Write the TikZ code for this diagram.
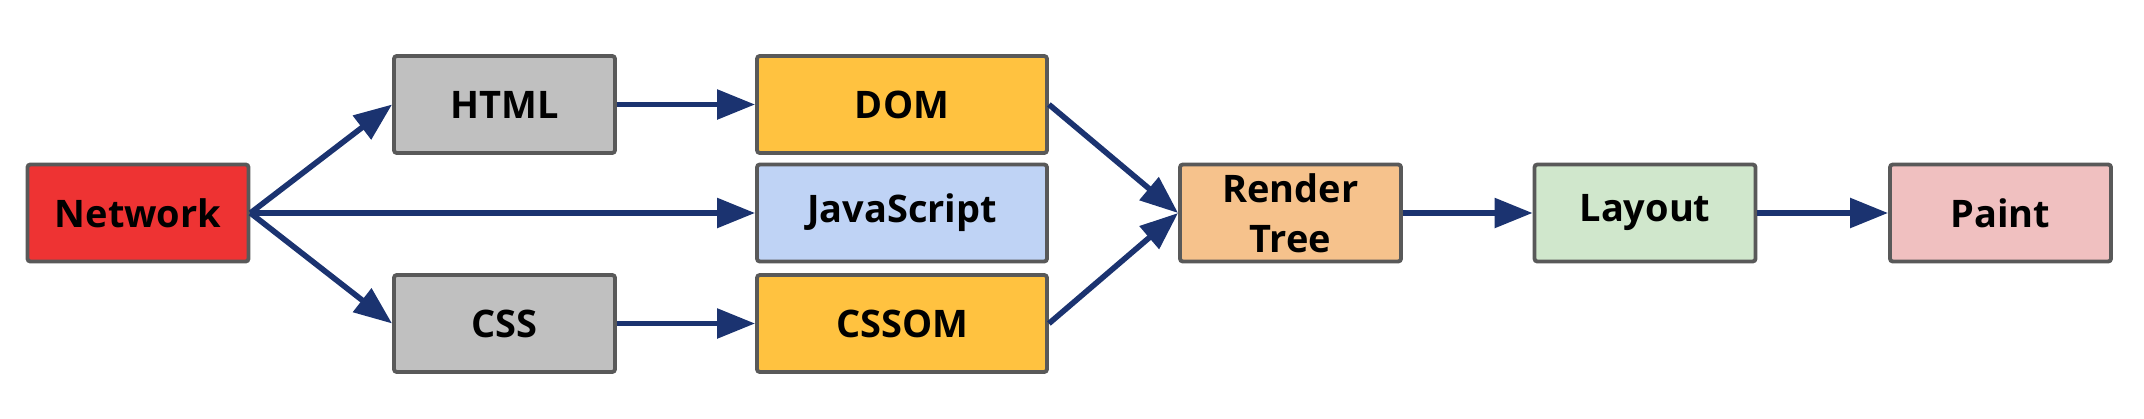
\documentclass[tikz,border=0pt]{standalone}
\usepackage{fontspec}
\setmainfont{Open Sans}
\usepackage{xcolor}
\usepackage{tikz}
\usetikzlibrary{arrows.meta}

\definecolor{netred}{HTML}{EE3333}
\definecolor{srcgray}{HTML}{C0C0C0}
\definecolor{objyellow}{HTML}{FFC240}
\definecolor{jsblue}{HTML}{BFD3F5}
\definecolor{rtorange}{HTML}{F6C28C}
\definecolor{laygreen}{HTML}{D0E7CC}
\definecolor{paintpink}{HTML}{F0C0C0}
\definecolor{edgegray}{HTML}{595959}
\definecolor{flownavy}{HTML}{1B3370}

\begin{document}
\begin{tikzpicture}[
    stage/.style={draw=edgegray, line width=1.1pt, rounded corners=0.8pt, rectangle, minimum width=2.21cm, minimum height=0.97cm, inner sep=0pt, align=center, font=\fontsize{10.8}{14.2}\selectfont\bfseries},
    flow/.style={draw=flownavy, line width=1.6pt, -{Triangle[length=0.38cm,width=0.29cm]}}
]
                \useasboundingbox (0,0) rectangle (21.44,4.18);
                \node[stage, fill=netred] (Network) at (1.38,2.05) {Network};
                \node[stage, fill=srcgray] (HTML) at (5.045,3.135) {HTML};
                \node[stage, fill=srcgray] (CSS) at (5.045,0.945) {CSS};
                \node[stage, fill=objyellow, minimum width=2.9cm] (DOM) at (9.02,3.135) {DOM};
                \node[stage, fill=jsblue, minimum width=2.9cm] (JavaScript) at (9.02,2.05) {JavaScript};
                \node[stage, fill=objyellow, minimum width=2.9cm] (CSSOM) at (9.02,0.945) {CSSOM};
                \node[stage, fill=rtorange] (RenderTree) at (12.905,2.05) {Render\\Tree};
                \node[stage, fill=laygreen] (Layout) at (16.45,2.05) {Layout};
                \node[stage, fill=paintpink] (Paint) at (20.005,2.05) {Paint};
                % network fans out
                \draw[flow] (Network.east) -- (HTML.west);
                \draw[flow] (Network.east) -- (JavaScript.west);
                \draw[flow] (Network.east) -- (CSS.west);
                \draw[flow] (HTML.east) -- (DOM.west);
                \draw[flow] (CSS.east) -- (CSSOM.west);
                % merge into render tree
                \draw[flow] (DOM.east) -- (RenderTree.west);
                \draw[flow] (CSSOM.east) -- (RenderTree.west);
                \draw[flow] (RenderTree.east) -- (Layout.west);
                \draw[flow] (Layout.east) -- (Paint.west);
            \end{tikzpicture}
\end{document}
